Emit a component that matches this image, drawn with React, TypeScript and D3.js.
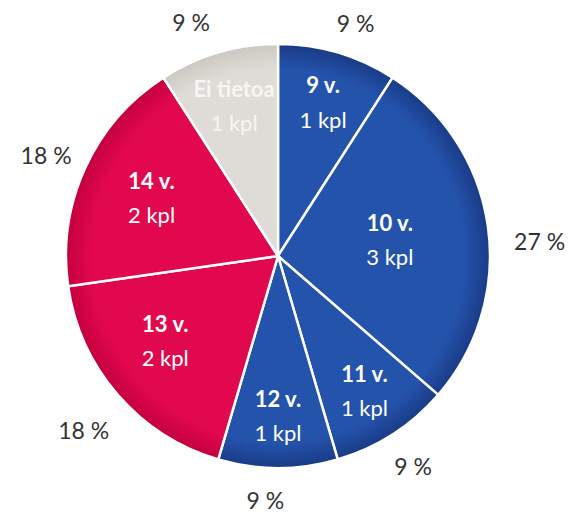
import * as d3 from "d3";
import { useEffect, useRef } from "react";

const categories = ["9 v.", "10 v.", "11 v.", "12 v.", "13 v.", "14 v.", "Ei tietoa"];
const counts = [1, 3, 1, 1, 2, 2, 1];
const percentLabels = ["9 %", "27 %", "9 %", "9 %", "18 %", "18 %", "9 %"];
const groups = ["blue", "blue", "blue", "blue", "red", "red", "gray"];

// label placement tweaks (Excel moved some labels a bit), degrees / px
const innerNudge: Record<string, { da: number; dr: number }> = {
  "10 v.": { da: 0, dr: -47 },
  "13 v.": { da: 4, dr: -19 },
  "14 v.": { da: 0, dr: -21 },
  "Ei tietoa": { da: 0, dr: -4 },
};
const outerNudge: Record<string, { da: number; dr: number }> = {
  "9 v.": { da: 2, dr: -2 },
  "10 v.": { da: 5, dr: 14 },
  "11 v.": { da: 0, dr: 2 },
  "12 v.": { da: 3, dr: -4 },
  "13 v.": { da: -1, dr: 13 },
  "14 v.": { da: -1, dr: 5 },
  "Ei tietoa": { da: -4, dr: 2 },
};

export default function App() {
  const ref = useRef<SVGSVGElement>(null);

  useEffect(() => {
    const width = 573, height = 514;
    const cx = 278, cy = 256, r = 212;
    const svg = d3.select(ref.current);
    svg.selectAll("*").remove();

    const defs = svg.append("defs");
    const grads: Record<string, [string, string]> = {
      blue: ["#2453ac", "#1a3b86"],
      red: ["#e2084d", "#c3003f"],
      gray: ["#dfdcd7", "#ccc8c1"],
    };
    Object.entries(grads).forEach(([k, [c0, c1]]) => {
      const g = defs.append("radialGradient").attr("id", "g-" + k)
        .attr("gradientUnits", "userSpaceOnUse")
        .attr("cx", 0).attr("cy", 0).attr("r", r);
      g.append("stop").attr("offset", "0%").attr("stop-color", c0);
      g.append("stop").attr("offset", "88%").attr("stop-color", c0);
      g.append("stop").attr("offset", "100%").attr("stop-color", c1);
    });

    const data = categories.map((c, i) => ({ cat: c, count: counts[i], pct: percentLabels[i], group: groups[i] }));
    const pie = d3.pie<any>().value(d => d.count).sort(null);
    const arcs = pie(data);
    const arc = d3.arc<any>().innerRadius(0).outerRadius(r);

    const g = svg.append("g").attr("transform", `translate(${cx},${cy})`);

    g.selectAll("path").data(arcs).enter().append("path")
      .attr("d", arc)
      .attr("fill", d => `url(#g-${d.data.group})`)
      .attr("stroke", "#fff")
      .attr("stroke-width", 2.5)
      .attr("stroke-linejoin", "round");

    const polar = (a: number, rr: number) => [Math.sin(a) * rr, -Math.cos(a) * rr];
    const font = "Lato, 'Open Sans', sans-serif";

    arcs.forEach(d => {
      const mid = (d.startAngle + d.endAngle) / 2;
      const ni = innerNudge[d.data.cat] || { da: 0, dr: 0 };
      const [ix, iy] = polar(mid + (ni.da * Math.PI) / 180, 160 + ni.dr);
      const fill = d.data.group === "gray" ? "#f6f5f2" : "#ffffff";
      const t = g.append("text")
        .attr("x", ix).attr("y", iy)
        .attr("text-anchor", "middle")
        .style("font-family", font)
        .style("font-size", "22px")
        .attr("fill", fill);
      t.append("tspan").attr("x", ix).attr("dy", "-0.41em").style("font-weight", "bold").text(d.data.cat);
      t.append("tspan").attr("x", ix).attr("dy", "1.55em").text(`${d.data.count} kpl`);

      const no = outerNudge[d.data.cat] || { da: 0, dr: 0 };
      const [ox, oy] = polar(mid + (no.da * Math.PI) / 180, 248 + no.dr);
      g.append("text")
        .attr("x", ox).attr("y", oy)
        .attr("text-anchor", "middle")
        .attr("dominant-baseline", "central")
        .style("font-family", font)
        .style("font-size", "23px")
        .attr("fill", "#333")
        .text(d.data.pct);
    });

    svg.attr("width", width).attr("height", height);
  }, []);

  return <svg ref={ref} style={{ position: "absolute", left: 0, top: 0, background: "#fff" }} />;
}
